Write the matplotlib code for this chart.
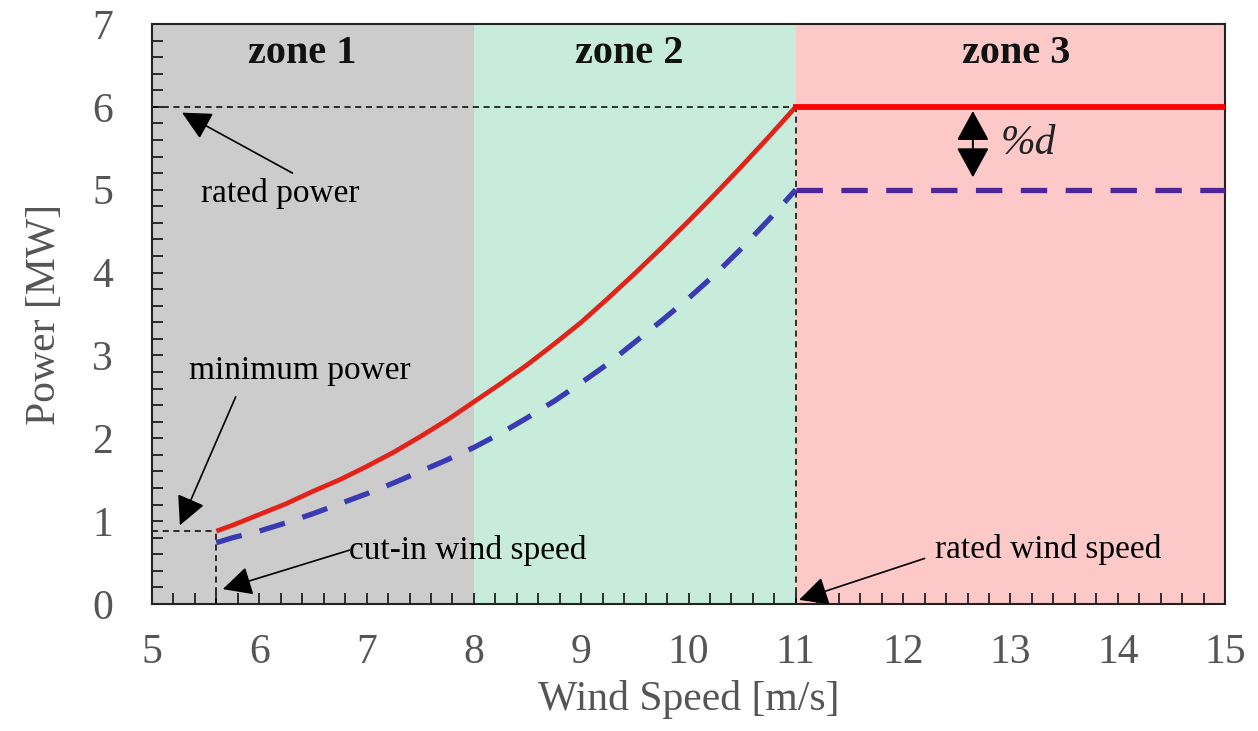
import matplotlib

matplotlib.use("Agg")
import matplotlib.pyplot as plt
from matplotlib.ticker import MultipleLocator

plt.rcParams["font.family"] = ["Liberation Serif", "DejaVu Serif"]

# wind speed [m/s] and power [MW] along the power curve (zones 1-2)
wind_speed = [5.6, 5.75, 6.0, 6.25, 6.5, 6.75, 7.0, 7.25, 7.5, 7.75, 8.0, 8.25,
              8.5, 8.75, 9.0, 9.25, 9.5, 9.75, 10.0, 10.25, 10.5, 10.75, 11.0]
power_max = [0.88, 0.95, 1.08, 1.21, 1.36, 1.50, 1.66, 1.83, 2.02, 2.22, 2.44, 2.66,
             2.89, 3.14, 3.40, 3.69, 3.99, 4.30, 4.62, 4.95, 5.29, 5.64, 6.0]
power_deloaded = [0.74, 0.80, 0.88, 0.98, 1.09, 1.21, 1.33, 1.46, 1.60, 1.74, 1.89, 2.06,
                  2.25, 2.45, 2.67, 2.90, 3.16, 3.42, 3.69, 3.98, 4.30, 4.64, 5.0]

# zone 3 (above rated wind speed)
wind_high = [11.0, 15.0]
rated_power = 6.0
deloaded_power = 5.0

cut_in_speed = 5.6
min_power = 0.88
rated_speed = 11.0

zone_edges = [5, 8, 11, 15]
zone_names = ["zone 1", "zone 2", "zone 3"]
zone_colors = ["#CCCCCC", "#C8ECDC", "#FDC8C8"]

fig = plt.figure(figsize=(12.58, 7.31), dpi=100)
ax = fig.add_axes([0.1208, 0.1737, 0.853, 0.7935])

for (x0, x1), color in zip(zip(zone_edges[:-1], zone_edges[1:]), zone_colors):
    ax.axvspan(x0, x1, color=color, lw=0, zorder=0)
zone_label_x = [6.4, 9.45, 13.05]
for x, name in zip(zone_label_x, zone_names):
    ax.text(x, 6.64, name, ha="center", va="center", fontsize=29, fontweight="bold", color="#111111")

# guide lines
dash = dict(color="black", lw=1.1, ls=(0, (4, 3)), zorder=2)
ax.plot([5, rated_speed], [rated_power, rated_power], **dash)
ax.plot([rated_speed, rated_speed], [0, rated_power], **dash)
ax.plot([5, cut_in_speed], [min_power, min_power], **dash)
ax.plot([cut_in_speed, cut_in_speed], [0, min_power], **dash)

# power curves
ax.plot(wind_speed, power_max, color="#E2231A", lw=3.4, zorder=3,
        solid_capstyle="butt", solid_joinstyle="round")
ax.plot(wind_high, [rated_power, rated_power], color="#FF0000", lw=4.2, zorder=3)
ax.plot(wind_speed, power_deloaded, color="#3A3AB2", lw=3.8, ls=(0, (5, 3.5)), zorder=3)
ax.plot(wind_high, [deloaded_power, deloaded_power], color="#4E2699", lw=3.8,
        ls=(0, (5, 3.5)), zorder=3)

arrow = dict(arrowstyle="-|>,head_length=0.5,head_width=0.25", color="black", lw=1.2,
             mutation_scale=36, shrinkA=0, shrinkB=0)
ax.annotate("", xy=(5.28, 5.93), xytext=(6.31, 5.2), arrowprops=arrow, zorder=4)
ax.text(6.2, 4.95, "rated power", ha="center", va="center", fontsize=24)

ax.annotate("", xy=(5.26, 0.95), xytext=(5.78, 2.5), arrowprops=arrow, zorder=4)
ax.text(6.38, 2.82, "minimum power", ha="center", va="center", fontsize=24)

ax.annotate("", xy=(5.66, 0.18), xytext=(6.84, 0.65), arrowprops=arrow, zorder=4)
ax.text(6.84, 0.64, "cut-in wind speed", ha="left", va="center", fontsize=24)

ax.annotate("", xy=(11.03, 0.05), xytext=(12.2, 0.55), arrowprops=arrow, zorder=4)
ax.text(12.3, 0.66, "rated wind speed", ha="left", va="center", fontsize=24)

# deloading margin
margin_arrow = dict(arrowstyle="-|>,head_length=0.55,head_width=0.3", color="black", lw=1.4,
                    mutation_scale=34, shrinkA=0, shrinkB=0)
ax.annotate("", xy=(12.65, rated_power - 0.05), xytext=(12.65, 5.55),
            arrowprops=margin_arrow, zorder=4)
ax.annotate("", xy=(12.65, deloaded_power + 0.15), xytext=(12.65, 5.55),
            arrowprops=margin_arrow, zorder=4)
ax.text(13.17, 5.55, "%d", ha="center", va="center", fontsize=30, style="italic", color="#222222")

ax.set_xlim(5, 15)
ax.set_ylim(0, 7)
ax.xaxis.set_major_locator(MultipleLocator(1))
ax.yaxis.set_major_locator(MultipleLocator(1))
ax.xaxis.set_minor_locator(MultipleLocator(0.2))
ax.yaxis.set_minor_locator(MultipleLocator(0.2))
ax.tick_params(axis="x", which="both", direction="in", length=8, width=1.1, colors="black",
               labelcolor="#555555", labelsize=30, pad=21)
ax.tick_params(axis="y", which="both", direction="in", length=8, width=1.1, colors="black",
               labelcolor="#555555", labelsize=30, pad=28)
for spine in ax.spines.values():
    spine.set_linewidth(1.5)
    spine.set_color("#222222")

ax.set_xlabel("Wind Speed [m/s]", fontsize=30, color="#555555", labelpad=6)
ax.set_ylabel("Power [MW]", fontsize=30, color="#555555", labelpad=20)

fig.savefig("out.png", dpi=100)
